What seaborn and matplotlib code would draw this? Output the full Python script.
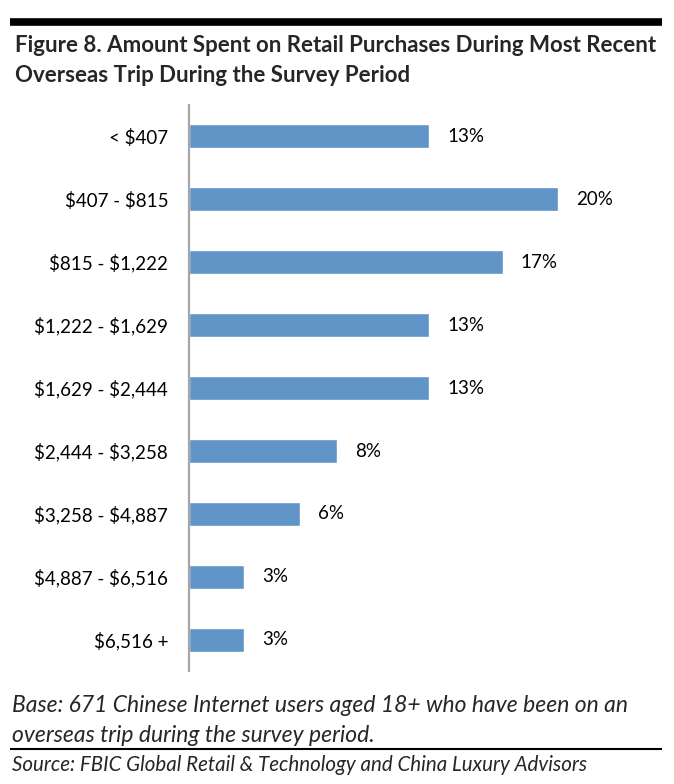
import pandas as pd
import seaborn as sns
import matplotlib.pyplot as plt
from matplotlib.lines import Line2D

# Data
categories = ['< $407', '$407 - $815', '$815 - $1,222', '$1,222 - $1,629',
              '$1,629 - $2,444', '$2,444 - $3,258', '$3,258 - $4,887',
              '$4,887 - $6,516', '$6,516 +']
shares = [13, 20, 17, 13, 13, 8, 6, 3, 3]

df = pd.DataFrame({'range': categories, 'share': shares})

sns.set_theme(style='white')
plt.rcParams['font.family'] = ['Lato', 'DejaVu Sans']
plt.rcParams['text.parse_math'] = False

fig = plt.figure(figsize=(6.74, 7.84), dpi=100)
ax = fig.add_axes([0.2804, 0.1435, 0.712, 0.7232])

sns.barplot(data=df, x='share', y='range', color='#6195C8', width=0.38,
            saturation=1, ax=ax, orient='h')

ax.bar_label(ax.containers[0], labels=[f'{v}%' for v in shares],
             padding=13, fontsize=13.5, color='black')

ax.set_xlim(0, 26)
ax.set_ylim(8.5, -0.5)
ax.set_xlabel('')
ax.set_ylabel('')
ax.set_xticks([])
ax.tick_params(axis='y', length=0, pad=15, labelsize=13.5, labelcolor='black')
for side in ['top', 'right', 'bottom']:
    ax.spines[side].set_visible(False)
ax.spines['left'].set_color('#A6A6A6')
ax.spines['left'].set_linewidth(1.6)

# Top rule
fig.add_artist(Line2D([10 / 674, 662 / 674], [1 - 22 / 784, 1 - 22 / 784],
                      color='black', linewidth=5.5, solid_capstyle='butt'))

fig.text(15 / 674, 1 - 46 / 784,
         'Figure 8. Amount Spent on Retail Purchases During Most Recent',
         fontsize=16, fontweight='bold', va='center', ha='left')
fig.text(15 / 674, 1 - 75 / 784,
         'Overseas Trip During the Survey Period',
         fontsize=16, fontweight='bold', va='center', ha='left')

fig.text(12 / 674, 1 - 705 / 784,
         'Base: 671 Chinese Internet users aged 18+ who have been on an',
         fontsize=16.5, style='italic', va='center', ha='left')
fig.text(12 / 674, 1 - 735 / 784,
         'overseas trip during the survey period.',
         fontsize=16.5, style='italic', va='center', ha='left')

fig.add_artist(Line2D([10 / 674, 662 / 674], [1 - 749 / 784, 1 - 749 / 784],
                      color='black', linewidth=1.5, solid_capstyle='butt'))

fig.text(12 / 674, 1 - 765 / 784,
         'Source: FBIC Global Retail & Technology and China Luxury Advisors',
         fontsize=14.8, style='italic', va='center', ha='left')

fig.savefig('out.png', dpi=100)
